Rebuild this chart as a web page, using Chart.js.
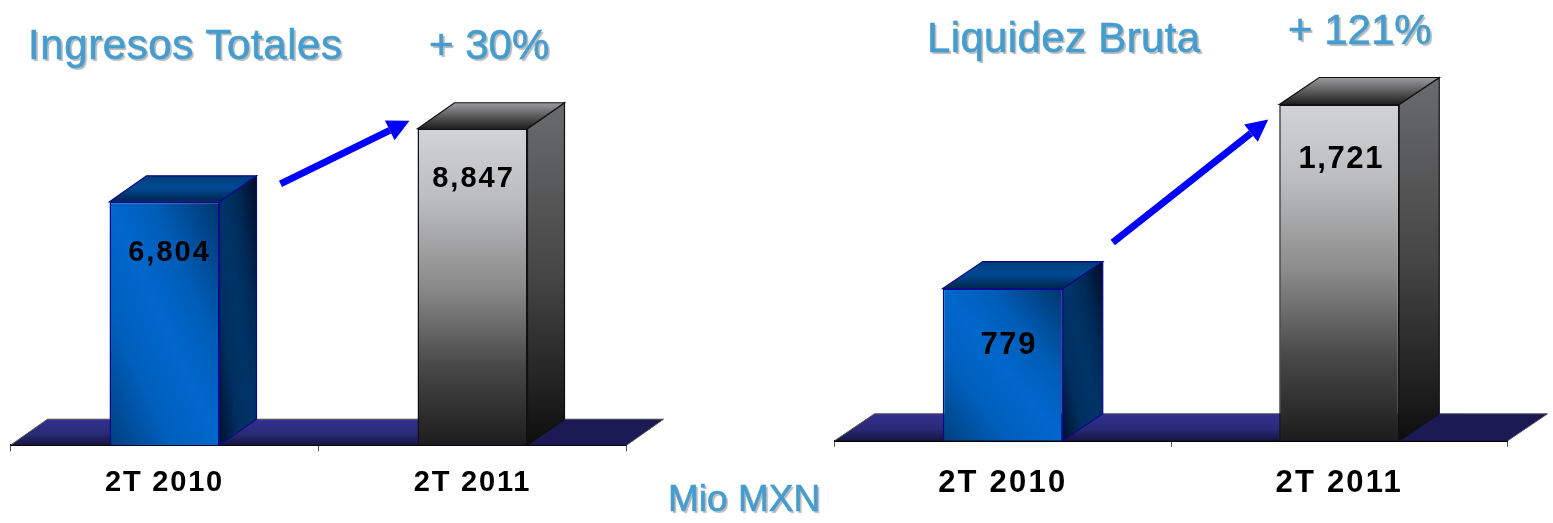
<!DOCTYPE html>
<html>
<head>
<meta charset="utf-8">
<script src="https://cdn.jsdelivr.net/npm/chart.js@4"></script>
<style>
html, body { margin: 0; padding: 0; background: #fff; width: 1553px; height: 523px; overflow: hidden; }
canvas { position: absolute; top: 0; }
#leftCanvas { left: 0; }
#rightCanvas { left: 800px; }
.titulo { position: absolute; font-family: "Liberation Sans", Arial, sans-serif; font-size: 42px; line-height: 48px;
    color: #459ccf; -webkit-text-stroke: 0.6px #459ccf; text-shadow: 2px 2px 1px #b9b9b9; white-space: nowrap; }
</style>
</head>
<body>
<canvas id="leftCanvas" width="700" height="523"></canvas>
<canvas id="rightCanvas" width="753" height="523"></canvas>
<div class="titulo" style="left:28px;top:21px;letter-spacing:0.6px">Ingresos Totales</div>
<div class="titulo" style="left:429px;top:21px">+ 30%</div>
<div class="titulo" style="left:927px;top:14px;letter-spacing:0.35px">Liquidez Bruta</div>
<div class="titulo" style="left:1288px;top:6px">+ 121%</div>
<div class="titulo" style="left:668px;top:475px;font-size:37px">Mio MXN</div>
<script>
// datos
let periodos = ['2T 2010', '2T 2011'];
let ingresosTotales = [6804, 8847];
let liquidezBruta = [779, 1721];

function saddle(ctx, x, y, w, h, stops) {
    // band of light from top-left to bottom-right, dark on the other two corners
    let len = Math.sqrt(w * w + h * h);
    let t = w * h / len;
    let cx = x + w / 2, cy = y + h / 2;
    let nx = h / len, ny = -w / len;
    let g = ctx.createLinearGradient(cx + nx * t, cy + ny * t, cx - nx * t, cy - ny * t);
    stops.forEach(s => g.addColorStop(s[0], s[1]));
    return g;
}

function vertical(ctx, y0, y1, stops) {
    let g = ctx.createLinearGradient(0, y0, 0, y1);
    stops.forEach(s => g.addColorStop(s[0], s[1]));
    return g;
}

function poly(ctx, pts, fill, stroke, lw) {
    ctx.beginPath();
    pts.forEach((p, i) => i ? ctx.lineTo(p[0], p[1]) : ctx.moveTo(p[0], p[1]));
    ctx.closePath();
    ctx.fillStyle = fill;
    ctx.fill();
    if (stroke) {
        ctx.strokeStyle = stroke;
        ctx.lineWidth = lw;
        ctx.stroke();
    }
}

function faceColor(c) {
    let chart = c.chart;
    if (!chart.chartArea) return '#0066cc';
    let ctx = chart.ctx;
    let cfg = chart.options.plugins.caja;
    let w = chart.scales.x.width / 2 * cfg.barPct;
    let x = chart.scales.x.getPixelForValue(c.dataIndex) - w / 2;
    let top = chart.scales.y.getPixelForValue(c.raw);
    let base = chart.scales.y.getPixelForValue(0);
    if (c.dataIndex === 0) {
        return saddle(ctx, x, top, w, base - top, [[0, '#00356c'], [0.3, '#005cb6'], [0.5, '#0067cc'], [0.72, '#005fbc'], [1, '#003f80']]);
    }
    return vertical(ctx, top, base, [[0, '#d2d3d5'], [0.22, '#bcbdbf'], [0.5, '#8a8a8a'], [0.75, '#484848'], [1, '#1c1c1c']]);
}

// floor, box sides, value labels and the arrow
let caja = {
    id: 'caja',
    beforeDraw(chart, args, cfg) {
        // tick labels are spaced out a bit in the original
        chart.ctx.letterSpacing = cfg.tickSpacing + 'px';
    },
    beforeDatasetsDraw(chart, args, cfg) {
        let ctx = chart.ctx;
        let a = chart.chartArea;
        let bars = chart.getDatasetMeta(0).data;
        let backY = a.bottom - cfg.dy;
        ctx.save();
        let pts = [[a.left, a.bottom], [a.left + cfg.dx, backY], [a.right + cfg.dx, backY], [a.right, a.bottom]];
        poly(ctx, pts, vertical(ctx, backY, a.bottom, [[0, '#33308e'], [0.55, '#2b2a78'], [1, '#16153f']]));
        // darker piece behind the second box
        let bx = bars[1].x + bars[1].width / 2;
        ctx.save();
        ctx.beginPath();
        ctx.rect(bx, backY, a.right + cfg.dx - bx, cfg.dy);
        ctx.clip();
        poly(ctx, pts, '#1b1a55');
        ctx.restore();
        ctx.strokeStyle = '#555';
        ctx.lineWidth = 1;
        ctx.beginPath();
        ctx.moveTo(a.left, a.bottom);
        ctx.lineTo(a.left + cfg.dx, backY);
        ctx.lineTo(a.right + cfg.dx, backY);
        ctx.lineTo(a.right, a.bottom);
        ctx.stroke();
        ctx.restore();
    },
    afterDatasetsDraw(chart, args, cfg) {
        let ctx = chart.ctx;
        let bars = chart.getDatasetMeta(0).data;
        let dx = cfg.dx, dy = cfg.dy;
        ctx.save();
        bars.forEach((b, i) => {
            let l = b.x - b.width / 2, r = b.x + b.width / 2, top = b.y, base = b.base;
            let blue = i === 0;
            let edge = blue ? '#0a0a8c' : '#111';
            let sideFill, topFill;
            if (blue) {
                sideFill = saddle(ctx, r, top - dy, dx, base - top + dy, [[0, '#000c26'], [0.3, '#002a58'], [0.5, '#003468'], [0.72, '#002f60'], [1, '#000f2a']]);
                topFill = vertical(ctx, top - dy, top, [[0, '#003c78'], [0.45, '#004a94'], [1, '#00244c']]);
            } else {
                sideFill = vertical(ctx, top - dy, base, [[0, '#6a6b6d'], [0.5, '#464646'], [1, '#0e0e0e']]);
                topFill = vertical(ctx, top - dy, top, [[0, '#9c9d9f'], [0.5, '#5c5c5c'], [1, '#1e1e1e']]);
            }
            poly(ctx, [[r, top], [r + dx, top - dy], [r + dx, base - dy], [r, base]], sideFill, edge, 1.2);
            poly(ctx, [[l, top], [l + dx, top - dy], [r + dx, top - dy], [r, top]], topFill, edge, 1.2);
            // value label
            ctx.fillStyle = '#000';
            ctx.font = 'bold ' + cfg.labelSize + 'px "Liberation Sans", Arial, sans-serif';
            ctx.letterSpacing = cfg.labelSpacing + 'px';
            ctx.textAlign = 'center';
            ctx.textBaseline = 'middle';
            let v = chart.data.datasets[0].data[i].toLocaleString('en-US');
            ctx.fillText(v, b.x + cfg.labelDx[i], top + cfg.labelDy[i]);
        });
        ctx.restore();

        // arrow going from the first box to the second
        let p0 = bars[0], p1 = bars[1];
        let x0 = p0.x + p0.width / 2 + dx + cfg.arrowFrom[0], y0 = p0.y - dy + cfg.arrowFrom[1];
        let x1 = p1.x - p1.width / 2 + cfg.arrowTo[0], y1 = p1.y + cfg.arrowTo[1];
        let ang = Math.atan2(y1 - y0, x1 - x0);
        let hl = 22, hw = 11;
        let nx = x1 - Math.cos(ang) * hl, ny = y1 - Math.sin(ang) * hl;
        ctx.save();
        ctx.strokeStyle = '#0000ff';
        ctx.lineWidth = 7;
        ctx.beginPath();
        ctx.moveTo(x0, y0);
        ctx.lineTo(nx, ny);
        ctx.stroke();
        poly(ctx, [[x1, y1],
            [nx - Math.sin(ang) * hw, ny + Math.cos(ang) * hw],
            [nx + Math.sin(ang) * hw, ny - Math.cos(ang) * hw]], '#0000ff');
        ctx.restore();
    }
};

function makeChart(id, values, yMax, padding, fontSize, tickPadding, cfg) {
    return new Chart(document.getElementById(id), {
        type: 'bar',
        data: {
            labels: periodos,
            datasets: [{
                data: values,
                backgroundColor: faceColor,
                borderColor: ['#0a0a8c', '#111'],
                borderWidth: 1.5,
                categoryPercentage: 1,
                barPercentage: cfg.barPct
            }]
        },
        options: {
            responsive: false,
            animation: false,
            layout: { padding: padding },
            plugins: { legend: { display: false }, tooltip: { enabled: false }, caja: cfg },
            scales: {
                x: {
                    offset: true,
                    border: { color: '#000', width: 2 },
                    grid: { drawOnChartArea: false, drawTicks: true, tickLength: 6, color: '#555', offset: true },
                    ticks: {
                        color: '#000',
                        padding: tickPadding,
                        maxRotation: 0,
                        font: { family: '"Liberation Sans", Arial, sans-serif', size: fontSize, weight: 'bold' }
                    }
                },
                y: { display: false, min: 0, max: yMax }
            }
        },
        plugins: [caja]
    });
}

makeChart('leftCanvas', ingresosTotales, 12000, { left: 10.5, right: 73.5, top: 16, bottom: 9 }, 29, 14, {
    barPct: 110 / 308, dx: 37, dy: 26, labelSize: 29, labelSpacing: 2, tickSpacing: 1.8,
    labelDx: [5, 1], labelDy: [51, 50],
    arrowFrom: [24, 8], arrowTo: [-8, -8]
});
makeChart('rightCanvas', liquidezBruta, 2000, { left: 34.5, right: 45.5, top: 50, bottom: 3 }, 31, 18, {
    barPct: 120 / 336.5, dx: 40, dy: 27, labelSize: 31, labelSpacing: 1.6, tickSpacing: 2.2,
    labelDx: [6, 2], labelDy: [57, 55],
    arrowFrom: [10, -19], arrowTo: [-11, 15]
});
</script>
</body>
</html>
